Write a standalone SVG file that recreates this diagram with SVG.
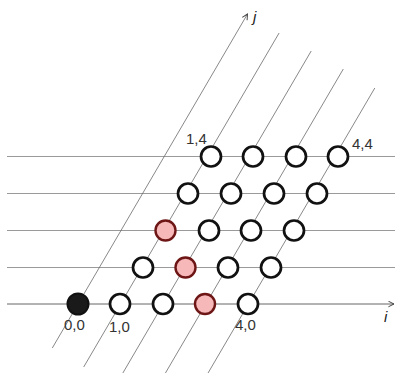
<svg xmlns="http://www.w3.org/2000/svg" width="397" height="373" viewBox="0 0 397 373">
  <style>
    .grid { stroke: #9a9a9a; stroke-width: 1; fill: none; }
    .axis { stroke: #666; stroke-width: 1; fill: none; }
    .diag { stroke: #6a6a6a; stroke-width: 0.8; fill: none; }
    .pt { fill: #fff; stroke: #111; stroke-width: 2.7; }
    .dep { fill: #f6b8b8; stroke: #6e1616; stroke-width: 2.4; }
    .origin { fill: #1a1a1a; stroke: #111; stroke-width: 2; }
    .lbl { font-family: "Liberation Sans", Arial, sans-serif; font-size: 15px; fill: #333; }
    .ax { font-family: "Liberation Sans", Arial, sans-serif; font-size: 15px; font-style: italic; fill: #222; }
  </style>
  <defs>
    <marker id="arrow" viewBox="0 0 10 10" refX="9" refY="5" markerWidth="7" markerHeight="7" orient="auto" markerUnits="userSpaceOnUse">
      <path d="M1,1 L9,5 L1,9" fill="none" stroke="#444" stroke-width="1.4"/>
    </marker>
  </defs>

  <g id="connectors">
    <!-- rows j = 4..1 -->
    <line class="grid" x1="7" y1="156.5" x2="395" y2="156.5"/>
    <line class="grid" x1="7" y1="193.5" x2="395" y2="193.5"/>
    <line class="grid" x1="7" y1="230.5" x2="395" y2="230.5"/>
    <line class="grid" x1="7" y1="267.5" x2="395" y2="267.5"/>
    <!-- i axis -->
    <line class="axis" x1="7" y1="304" x2="394" y2="304" marker-end="url(#arrow)"/>
    <!-- j axis and skewed columns -->
    <line class="diag" x1="52.3" y1="348" x2="247.5" y2="14" marker-end="url(#arrow)"/>
    <line class="diag" x1="83.7" y1="367" x2="279.1" y2="33"/>
    <line class="diag" x1="121.1" y1="376" x2="311.2" y2="51"/>
    <line class="diag" x1="163.7" y1="376" x2="343.3" y2="69"/>
    <line class="diag" x1="206.3" y1="376" x2="374.8" y2="88"/>
  </g>

  <!-- row j = 0 -->
  <g id="p0_0"><circle class="origin" cx="78" cy="304" r="10.5"/></g>
  <g id="p1_0"><circle class="pt" cx="120" cy="304" r="10"/></g>
  <g id="p2_0"><circle class="pt" cx="163" cy="304" r="10"/></g>
  <g id="p3_0"><circle class="dep" cx="205" cy="304" r="10"/></g>
  <g id="p4_0"><circle class="pt" cx="248" cy="304" r="10"/></g>
  <!-- row j = 1 -->
  <g id="p1_1"><circle class="pt" cx="143" cy="267.5" r="10"/></g>
  <g id="p2_1"><circle class="dep" cx="185.5" cy="267.5" r="10"/></g>
  <g id="p3_1"><circle class="pt" cx="228" cy="267.5" r="10"/></g>
  <g id="p4_1"><circle class="pt" cx="271" cy="267.5" r="10"/></g>
  <!-- row j = 2 -->
  <g id="p1_2"><circle class="dep" cx="165.5" cy="230.5" r="10"/></g>
  <g id="p2_2"><circle class="pt" cx="209" cy="230.5" r="10"/></g>
  <g id="p3_2"><circle class="pt" cx="251" cy="230.5" r="10"/></g>
  <g id="p4_2"><circle class="pt" cx="294" cy="230.5" r="10"/></g>
  <!-- row j = 3 -->
  <g id="p1_3"><circle class="pt" cx="188" cy="193.5" r="10"/></g>
  <g id="p2_3"><circle class="pt" cx="231" cy="193.5" r="10"/></g>
  <g id="p3_3"><circle class="pt" cx="274" cy="193.5" r="10"/></g>
  <g id="p4_3"><circle class="pt" cx="317" cy="193.5" r="10"/></g>
  <!-- row j = 4 -->
  <g id="p1_4"><circle class="pt" cx="211" cy="156.5" r="10"/></g>
  <g id="p2_4"><circle class="pt" cx="253" cy="156.5" r="10"/></g>
  <g id="p3_4"><circle class="pt" cx="296" cy="156.5" r="10"/></g>
  <g id="p4_4"><circle class="pt" cx="338" cy="156.5" r="10"/></g>

  <g id="labels">
    <text class="lbl" x="64" y="329.5">0,0</text>
    <text class="lbl" x="109" y="331.5">1,0</text>
    <text class="lbl" x="235" y="329.5">4,0</text>
    <text class="lbl" x="186" y="143.5">1,4</text>
    <text class="lbl" x="352" y="148.5">4,4</text>
    <text class="ax" x="384" y="322">i</text>
    <text class="ax" x="253" y="22">j</text>
  </g>
</svg>
